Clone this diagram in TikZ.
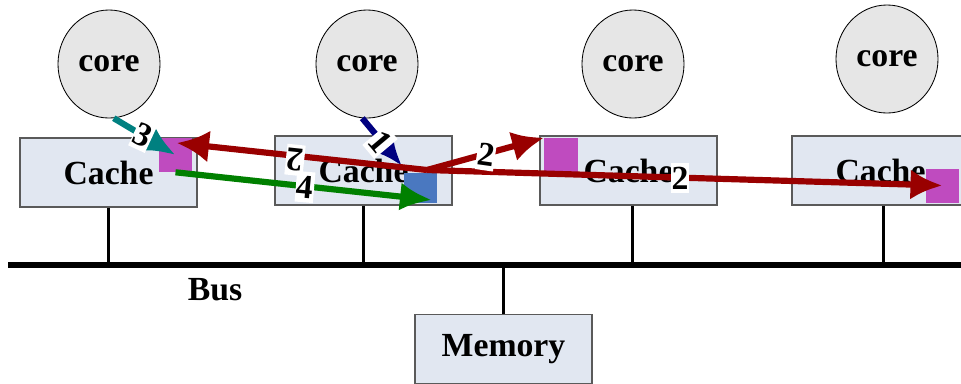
\documentclass[tikz,border=0pt]{standalone}
\usepackage{fontspec}
\setmainfont{Liberation Serif}
\usetikzlibrary{arrows.meta,shapes.geometric}

\definecolor{corefill}{HTML}{E6E6E6}
\definecolor{cachefill}{HTML}{E1E7F1}
\definecolor{edgegray}{HTML}{5A5A5A}
\definecolor{blockmag}{HTML}{BF4BBF}
\definecolor{blockblue}{HTML}{4A78C0}
\definecolor{msgred}{HTML}{990000}
\definecolor{msgnavy}{HTML}{000080}
\definecolor{msgteal}{HTML}{008080}
\definecolor{msggreen}{HTML}{008000}

\tikzset{
  bigtext/.style={font=\bfseries\fontsize{24}{28}\selectfont},
  core/.style={ellipse, draw=black, line width=0.6pt, fill=corefill, inner sep=0pt,
    minimum width=2.55cm, minimum height=2.7cm, bigtext},
  cachebox/.style={rectangle, draw=edgegray, line width=0.8pt, fill=cachefill, inner sep=0pt,
    minimum width=4.425cm, minimum height=1.725cm, bigtext},
  block/.style={rectangle, inner sep=0pt, minimum width=0.83cm, minimum height=0.85cm},
  stub/.style={line width=2pt},
  msg/.style={line width=4.4pt},
  num/.style={fill=white, inner xsep=0.5pt, inner ysep=3pt, bigtext},
}

\begin{document}
\begin{tikzpicture}[x=0.025cm, y=-0.025cm]
  \useasboundingbox (0,0) rectangle (961,383);

  % draw the cores
  \node[core] (core1) at (109,64) {core};
  \node[core] (core2) at (367,64) {core};
  \node[core] (core3) at (633,64) {core};
  \node[core] (core4) at (887,59) {core};

  % draw the caches
  \node[cachebox] (cache1) at (108.5,172.5) {Cache};
  \node[cachebox] (cache2) at (363.5,170.5) {Cache};
  \node[cachebox] (cache3) at (628.5,170.5) {Cache};
  \node[cachebox] (cache4) at (880.5,170.5) {Cache};

  % cache lines held by the caches
  \node[block, fill=blockmag] (m1) at (175.5,155) {};
  \node[block, fill=blockblue, minimum height=0.75cm] (b2) at (420.5,188) {};
  \node[block, fill=blockmag] (m3) at (561,155) {};
  \node[block, fill=blockmag] (m4) at (942.5,185.5) {};

  % draw the bus and the memory
  \coordinate (busL) at (8,265);
  \coordinate (busR) at (961,265);
  \draw[line width=4.5pt] (busL) -- (busR);
  \node[bigtext] (buslabel) at (215,290) {Bus};
  \node[cachebox] (memory) at (503.5,349) {Memory};
  \draw[stub] (memory.north) -- (memory.north |- busL);
  \foreach \c/\dx in {cache1/0,cache2/0,cache3/4,cache4/3}
    \draw[stub] ([xshift=\dx*0.025cm]\c.south) -- ([xshift=\dx*0.025cm]\c.south |- busL);

  % end points of the messages
  \coordinate (src) at (427,170);
  \coordinate (t1) at (402,166);
  \coordinate (t2) at (177,143);
  \coordinate (t4) at (432,200);

  %1
  \draw[msg, msgnavy, -{Latex[length=0.7cm,width=0.6cm]}] (core2.-95) -- (t1);
  %2
  \draw[msg, msgred, -{Latex[length=0.8cm,width=0.8cm]}] (src) -- (t2);
  \draw[msg, msgred, -{Latex[length=0.8cm,width=0.75cm]}] (src) -- (m3.north west);
  \draw[msg, msgred, -{Latex[length=0.8cm,width=0.75cm]}] (src) -- (m4.center);
  %3
  \draw[msg, msgteal, -{Latex[length=0.8cm,width=0.7cm]}] (core1.-85) -- (m1.center);
  %4
  \draw[msg, msggreen, -{Latex[length=0.8cm,width=0.7cm]}] (m1.south) -- (t4);

  % text on the messages
  \node[num, rotate=-25] (n3) at (143,135) {3};
  \node[num, rotate=-50] (n1) at (380,142) {1};
  \node[num, rotate=174] (n2a) at (295,160) {2};
  \node[num, rotate=-8] (n2b) at (486,155) {2};
  \node[num] (n2c) at (680,178) {2};
  \node[num, rotate=-5] (n4) at (305,187) {4};
\end{tikzpicture}
\end{document}
